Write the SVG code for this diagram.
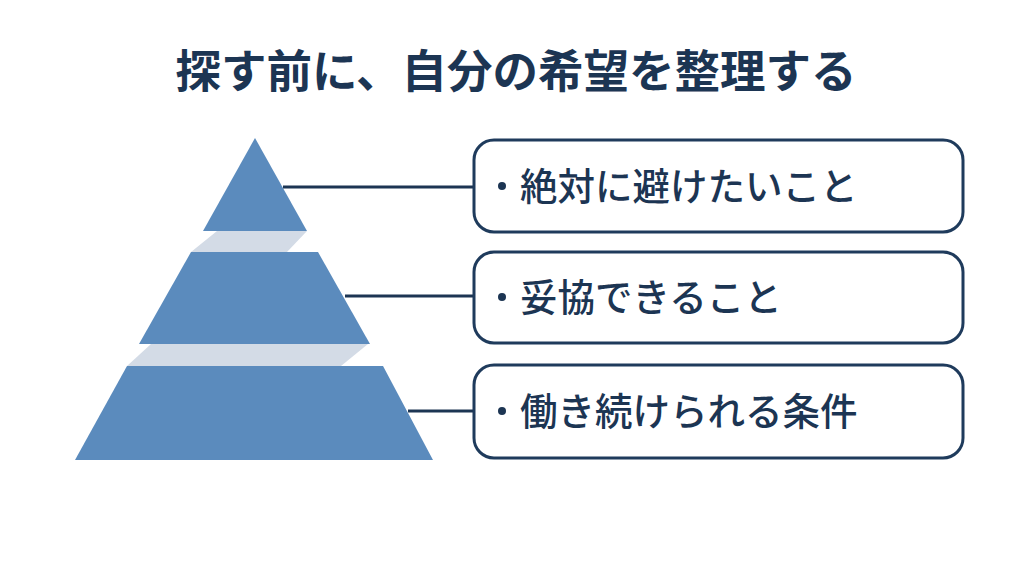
<svg xmlns="http://www.w3.org/2000/svg" width="1036" height="574" viewBox="0 0 1036 574">
<style>
.tier{fill:#5b8bbd}
.band{fill:#d3dbe6}
.box{fill:#ffffff;stroke:#1f3b5c;stroke-width:3}
.lbl{font-family:"Noto Sans CJK JP","Noto Sans",sans-serif;font-size:37.5px;font-weight:500;fill:#1c3553}
.title{font-family:"Noto Sans CJK JP","Noto Sans",sans-serif;font-size:45.5px;font-weight:700;fill:#1c3553}
.conn{stroke:#1c3553;stroke-width:3;fill:none}
</style>
<rect width="1036" height="574" fill="#ffffff"/>
<text class="title" x="516" y="88" text-anchor="middle">探す前に、自分の希望を整理する</text>
<g id="pyramid">
<polygon class="band" points="217,231 307,231 287,252 191,252"/>
<polygon class="band" points="151,344 368,344 341,366 127,366"/>
<polygon id="tier1" class="tier" points="255,138 307,231 203,231"/>
<polygon id="tier2" class="tier" points="191,252 318,252 370,344 139,344"/>
<polygon id="tier3" class="tier" points="127,366 383,366 433,460 75,460"/>
</g>
<g id="connectors">
<line class="conn" x1="283" y1="187" x2="474" y2="187"/>
<line class="conn" x1="345" y1="296" x2="474" y2="296"/>
<line class="conn" x1="408" y1="411" x2="474" y2="411"/>
</g>
<g id="box1">
<rect class="box" x="474" y="140" width="489" height="92" rx="20"/>
<circle cx="502" cy="186" r="4" fill="#1c3553"/>
<text class="lbl" x="520" y="200">絶対に避けたいこと</text>
</g>
<g id="box2">
<rect class="box" x="474" y="252" width="489" height="91" rx="20"/>
<circle cx="502" cy="297" r="4" fill="#1c3553"/>
<text class="lbl" x="520" y="311">妥協できること</text>
</g>
<g id="box3">
<rect class="box" x="474" y="365" width="489" height="93" rx="20"/>
<circle cx="502" cy="411" r="4" fill="#1c3553"/>
<text class="lbl" x="520" y="425">働き続けられる条件</text>
</g>
</svg>
